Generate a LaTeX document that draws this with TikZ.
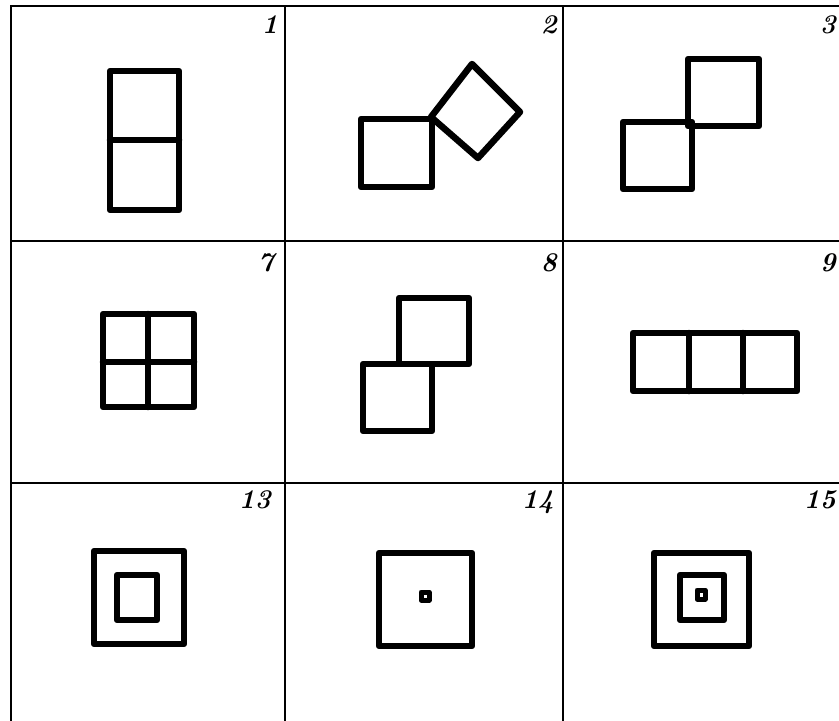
\documentclass[tikz,border=0pt]{standalone}
\begin{document}
\begin{tikzpicture}[x=1pt,y=-1pt,
  grid/.style={line width=1.8pt,black},
  fig/.style={line width=6.5pt,black,line join=round,line cap=round},
  dot/.style={line width=5pt,black,line join=round},
  num/.style={font=\fontsize{27}{27}\selectfont\bfseries\itshape,anchor=north east,inner sep=0pt}]
\useasboundingbox (0,0) rectangle (839,721);
% grid
\draw[grid] (11,721) -- (11,6) -- (839,6);
\draw[grid] (285,6) -- (285,721);
\draw[grid] (563,6) -- (563,721);
\draw[grid] (11,241) -- (839,241);
\draw[grid] (11,483) -- (839,483);
% labels
\node[num] (n1) at (278,15) {1};
\node[num] (n2) at (557,15) {2};
\node[num] (n3) at (836,15) {3};
\node[num] (n7) at (274,253) {7};
\node[num] (n8) at (557,253) {8};
\node[num] (n9) at (836,253) {9};
\node[num] (n13) at (271,490) {13};
\node[num] (n14) at (554,490) {14};
\node[num] (n15) at (836,490) {15};
% cell 1
\draw[fig] (110,71) rectangle (179,210);
\draw[fig] (110,140) -- (179,140);
% cell 2
\draw[fig] (361,119) rectangle (432,187);
\draw[fig] (431,117) -- (472,64) -- (520,112) -- (478,158) -- cycle;
% cell 3
\draw[fig] (688,59) rectangle (759,126);
\draw[fig] (623,122) rectangle (692,189);
% cell 7
\draw[fig] (103,314) rectangle (194,407);
\draw[fig] (148,314) -- (148,407);
\draw[fig] (103,362) -- (194,362);
% cell 8
\draw[fig] (399,298) rectangle (469,364);
\draw[fig] (363,364) rectangle (432,431);
% cell 9
\draw[fig] (633,333) rectangle (797,391);
\draw[fig] (689,333) -- (689,391);
\draw[fig] (743,333) -- (743,391);
% cell 13
\draw[fig] (94,551) rectangle (184,644);
\draw[fig] (117,575) rectangle (157,620);
% cell 14
\draw[fig] (379,553) rectangle (472,646);
\draw[dot] (421,592) rectangle (429,600);
% cell 15
\draw[fig] (654,553) rectangle (749,646);
\draw[fig] (680,575) rectangle (724,620);
\draw[dot] (697,590) rectangle (705,599);
\end{tikzpicture}
\end{document}
